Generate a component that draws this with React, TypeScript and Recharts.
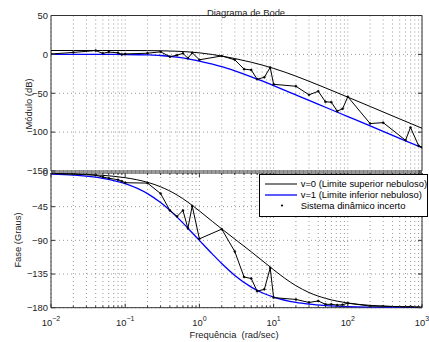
import React from 'react';
import { LineChart, Line, XAxis, YAxis, CartesianGrid, ReferenceArea } from 'recharts';

// frequências (rad/s) das curvas-limite
const FREQ_BOUNDS = [0.01, 0.02, 0.05, 0.1, 0.2, 0.3, 0.5, 0.7, 1, 1.5, 2, 3, 5, 7, 10, 20, 30, 50, 100, 200, 500, 1000];
const MAG_UPPER = [5, 5, 4.99, 4.96, 4.83, 4.63, 4.02, 3.25, 1.95, -0.2, -2.16, -5.37, -10.1, -13.7, -18.05, -28.0, -34.55, -43.1, -55.0, -67.0, -83.0, -95.0];
const MAG_LOWER = [0, -0.01, -0.04, -0.18, -0.69, -1.43, -3.6, -5.7, -8.6, -12.6, -15.8, -21.2, -28.8, -34.2, -40.2, -52.1, -59.1, -68.0, -80.0, -92.0, -108.0, -120.0];
const PHASE_UPPER = [-0.63, -1.26, -3.15, -6.28, -12.46, -18.42, -29.43, -39.0, -50.7, -64.8, -74.7, -88.3, -105.3, -116.9, -129.3, -150.6, -159.7, -167.5, -173.7, -176.9, -178.7, -179.4];
const PHASE_LOWER = [-1.43, -2.86, -7.14, -14.17, -27.5, -39.5, -59.0, -73.75, -90, -108.4, -121, -136.9, -152.5, -160, -165.8, -172.9, -175.2, -177.1, -178.6, -179.3, -179.7, -179.9];

// sistema dinâmico incerto
const FREQ_SYS = [0.01, 0.02, 0.04, 0.05, 0.06, 0.08, 0.09, 0.1, 0.2, 0.3, 0.4, 0.5, 0.6, 0.7, 0.8, 1, 2, 3, 4, 5, 6, 7.5, 9, 10, 20, 30, 40, 50, 60, 72, 85, 100, 200, 300, 600, 700, 900, 1000];
const MAG_SYS = [0.5, 2.5, 4.9, 1.3, 3.0, 2.0, 0, 0.5, 1.5, 3.3, -3.0, -1.0, 1.3, -5.0, 2.0, -7.0, -2.0, -7.0, -19.0, -20.0, -32.0, -29.5, -16.8, -38.5, -41.0, -52.0, -47.5, -61.0, -61.5, -73.0, -70.0, -54.5, -89.0, -87.8, -110.5, -94.0, -117.5, -119.5];
const PHASE_SYS = [-0.7, -1.5, -3.0, -5.5, -7.0, -9.0, -11.0, -13.0, -13.5, -27.5, -50.0, -58.0, -50.0, -74.0, -44.0, -88.0, -75.0, -105.0, -139.0, -141.0, -158.0, -155.5, -127.0, -166.5, -169.0, -173.0, -171.0, -175.5, -175.5, -176.5, -176.0, -174.0, -177.8, -178.0, -178.8, -178.5, -179.3, -179.5];

const DECADES = [0.01, 0.1, 1, 10, 100, 1000];
const MAG_TICKS = [-150, -100, -50, 0, 50];
const PHASE_TICKS = [-180, -135, -90, -45, 0];

const X_TICKS: number[] = [];
DECADES.forEach((d, i) => {
  if (i === DECADES.length - 1) { X_TICKS.push(d); return; }
  for (let k = 1; k < 10; k++) X_TICKS.push(+(d * k).toPrecision(3));
});

const magBounds = FREQ_BOUNDS.map((w, i) => ({ w, upper: MAG_UPPER[i], lower: MAG_LOWER[i] }));
const phaseBounds = FREQ_BOUNDS.map((w, i) => ({ w, upper: PHASE_UPPER[i], lower: PHASE_LOWER[i] }));
const magSys = FREQ_SYS.map((w, i) => ({ w, v: MAG_SYS[i] }));
const phaseSys = FREQ_SYS.map((w, i) => ({ w, v: PHASE_SYS[i] }));

const FONT = '"Liberation Sans", Arial, Helvetica, sans-serif';
const AXIS = '#333';
const TXT = '#222';
const BLUE = '#0000ff';
const LEFT = 51;
const RIGHT = 422;

const minus = (v: number) => (v < 0 ? '\u2212' + Math.abs(v) : String(v));

function YTick(props: any) {
  const { x, y, payload } = props;
  return (
    <g>
      <line x1={LEFT} x2={LEFT + 4} y1={y} y2={y} stroke={AXIS} />
      <line x1={RIGHT - 4} x2={RIGHT} y1={y} y2={y} stroke={AXIS} />
      <text x={x - 3} y={y} dy={3.3} textAnchor="end" fontSize={9.4} fill={TXT} fontFamily={FONT}>
        {minus(payload.value)}
      </text>
    </g>
  );
}

function makeXTick(top: number, showLabel: boolean) {
  return function XTick(props: any) {
    const { x, y, payload } = props;
    const lg = Math.log10(payload.value);
    const major = Math.abs(lg - Math.round(lg)) < 1e-6;
    const len = major ? 4 : 2;
    return (
      <g>
        <line x1={x} x2={x} y1={y} y2={y - len} stroke={AXIS} />
        <line x1={x} x2={x} y1={top} y2={top + len} stroke={AXIS} />
        {showLabel && major && (
          <text x={x} y={y + 18.5} textAnchor="middle" fontSize={9.4} fill={TXT} fontFamily={FONT}>
            <tspan>10</tspan>
            <tspan dy={-5} fontSize={7}>{minus(Math.round(lg))}</tspan>
          </text>
        )}
      </g>
    );
  };
}

const TopXTick = makeXTick(15.5, false);
const BottomXTick = makeXTick(8, true);

export default function App() {
  return (
    <div style={{ position: 'absolute', left: 0, top: 0, width: 429, height: 342, background: '#fff', fontFamily: FONT, overflow: 'hidden' }}>
      {/* Módulo */}
      <div style={{ position: 'absolute', left: 0, top: 0 }}>
        <LineChart width={429} height={180} margin={{ top: 15.5, right: 7, bottom: 9, left: 21 }}>
          <CartesianGrid stroke="#999" strokeDasharray="1 3" />
          <XAxis dataKey="w" type="number" scale="log" domain={[0.01, 1000]} ticks={X_TICKS}
            allowDataOverflow height={0} tickSize={0} tickMargin={0} axisLine={false} tick={TopXTick} interval={0} />
          <YAxis type="number" domain={[-150, 50]} ticks={MAG_TICKS} width={30} allowDataOverflow
            tickSize={0} tickMargin={0} axisLine={false} tick={YTick} interval={0} />
          <ReferenceArea x1={0.01} x2={1000} y1={-150} y2={50} fill="none" stroke={AXIS} strokeWidth={1} ifOverflow="visible" />
          <Line data={magBounds} dataKey="lower" type="monotone" stroke={BLUE} strokeWidth={1.3} dot={false} isAnimationActive={false} />
          <Line data={magBounds} dataKey="upper" type="monotone" stroke="#000" strokeWidth={1} dot={false} isAnimationActive={false} />
          <Line data={magSys} dataKey="v" type="linear" stroke="#000" strokeWidth={1} isAnimationActive={false}
            dot={{ r: 1, fill: '#000', stroke: '#000', strokeWidth: 0.5 }} />
        </LineChart>
      </div>

      {/* Fase */}
      <div style={{ position: 'absolute', left: 0, top: 165 }}>
        <LineChart width={429} height={177} margin={{ top: 8, right: 7, bottom: 4.3, left: 21 }}>
          <CartesianGrid stroke="#999" strokeDasharray="1 3" />
          <XAxis dataKey="w" type="number" scale="log" domain={[0.01, 1000]} ticks={X_TICKS}
            allowDataOverflow height={30} tickSize={0} tickMargin={0} axisLine={false} tick={BottomXTick} interval={0} />
          <YAxis type="number" domain={[-180, 0]} ticks={PHASE_TICKS} width={30} allowDataOverflow
            tickSize={0} tickMargin={0} axisLine={false} tick={YTick} interval={0} />
          <ReferenceArea x1={0.01} x2={1000} y1={-180} y2={0} fill="none" stroke={AXIS} strokeWidth={1} ifOverflow="visible" />
          <Line data={phaseBounds} dataKey="lower" type="monotone" stroke={BLUE} strokeWidth={1.3} dot={false} isAnimationActive={false} />
          <Line data={phaseBounds} dataKey="upper" type="monotone" stroke="#000" strokeWidth={1} dot={false} isAnimationActive={false} />
          <Line data={phaseSys} dataKey="v" type="linear" stroke="#000" strokeWidth={1} isAnimationActive={false}
            dot={{ r: 1, fill: '#000', stroke: '#000', strokeWidth: 0.5 }} />
        </LineChart>
      </div>

      {/* textos */}
      <div style={{ position: 'absolute', left: 246, top: 11.5, transform: 'translate(-50%, -50%)', fontSize: 9.4, color: TXT, whiteSpace: 'nowrap' }}>
        Diagrama de Bode
      </div>
      <div style={{ position: 'absolute', left: 28, top: 104, transform: 'translate(-50%, -50%) rotate(-90deg)', fontSize: 9.4, color: TXT, whiteSpace: 'nowrap' }}>
        Módulo (dB)
      </div>
      <div style={{ position: 'absolute', left: 17, top: 240, transform: 'translate(-50%, -50%) rotate(-90deg)', fontSize: 9.4, color: TXT, whiteSpace: 'nowrap' }}>
        Fase (Graus)
      </div>
      <div style={{ position: 'absolute', left: 234, top: 334, transform: 'translate(-50%, -50%)', fontSize: 9.4, color: TXT, whiteSpace: 'pre' }}>
        {'Frequência  (rad/sec)'}
      </div>

      {/* legenda */}
      <div style={{ position: 'absolute', left: 259, top: 173.5, width: 167, height: 41, border: '1px solid #000', background: '#fff' }}>
        <svg width={168} height={42} style={{ position: 'absolute', left: -1, top: -1, overflow: 'visible' }}>
          <line x1={6} x2={38} y1={10} y2={10} stroke="#000" strokeWidth={1} />
          <line x1={6} x2={38} y1={21} y2={21} stroke={BLUE} strokeWidth={1.3} />
          <circle cx={23} cy={31.5} r={1.1} fill="#000" />
          <text x={41.7} y={13.2} fontSize={9.4} fontFamily={FONT} fill="#000">v=0 (Limite superior nebuloso)</text>
          <text x={41.7} y={24.2} fontSize={9.4} fontFamily={FONT} fill="#000">v=1 (Limite inferior nebuloso)</text>
          <text x={41.7} y={34.8} fontSize={9.4} fontFamily={FONT} fill="#000">Sistema dinâmico incerto</text>
        </svg>
      </div>
    </div>
  );
}
